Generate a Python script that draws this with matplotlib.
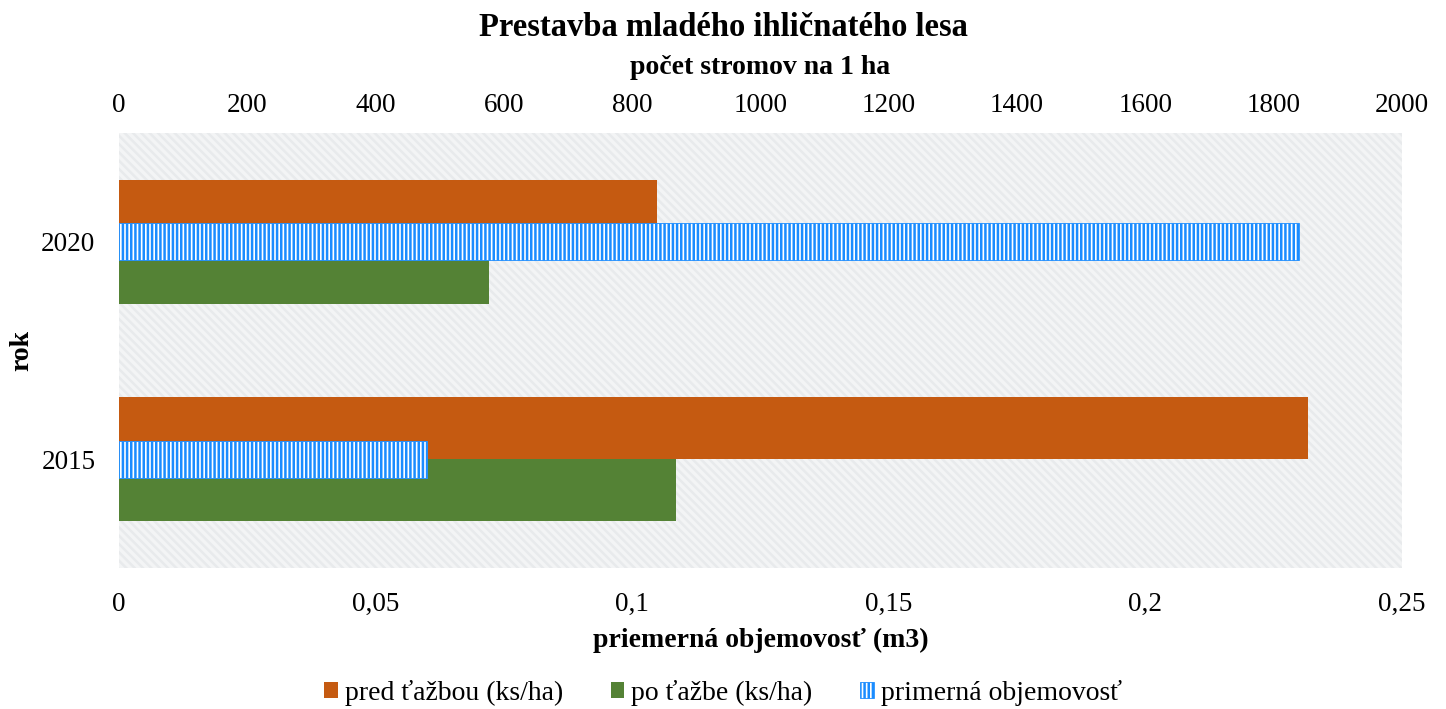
import numpy as np
import matplotlib
matplotlib.use("Agg")
import matplotlib.pyplot as plt
from matplotlib.patches import Patch, Rectangle

plt.rcParams['font.family'] = ['Liberation Serif', 'DejaVu Serif']
plt.rcParams['hatch.linewidth'] = 1.8

# data
roky = ["2015", "2020"]
pred_tazbou = [1853, 839]      # ks/ha
po_tazbe = [868, 577]          # ks/ha
objemovost = [0.06, 0.23]      # m3

# colours
c_pred = "#c55a11"
c_po = "#548235"
c_obj = "#1a8cff"

fig = plt.figure(figsize=(14.46, 7.09), dpi=100)
ax = fig.add_axes([119/1446, 1 - 568/709, 1283/1446, 435/709])
ax2 = ax.twiny()

y = np.arange(len(roky))
h = 0.285

# plot area background with faint diagonal pattern
ax.set_facecolor("#f3f4f5")
ax.add_patch(Rectangle((0, 0), 1, 1, transform=ax.transAxes, facecolor="none",
                       edgecolor="#e8eaec", hatch="\\\\\\\\", linewidth=0, zorder=0))

# primary series (top axis: počet stromov)
ax.barh(y + h/2, pred_tazbou, height=h, color=c_pred, zorder=2)
ax.barh(y - h/2, po_tazbe, height=h, color=c_po, zorder=2)
ax.set_xlim(0, 2000)
ax.set_ylim(-0.5, 1.5)
ax.xaxis.tick_top()
ax.xaxis.set_label_position("top")
ax.set_xticks(np.arange(0, 2001, 200))
ax.set_xlabel("počet stromov na 1 ha", fontsize=20, fontweight="bold", va="center")
ax.xaxis.set_label_coords(0.5, 1 + (133 - 68)/435)
ax.set_yticks(y)
ax.set_yticklabels(roky)
ax.set_ylabel("rok", fontsize=20, fontweight="bold", va="center")
ax.yaxis.set_label_coords(-(119 - 22)/1283, 0.5)
ax.tick_params(axis="x", length=0, labelsize=19.5, pad=11)
ax.tick_params(axis="y", length=0, labelsize=19.5, pad=17)
for s in ax.spines.values():
    s.set_visible(False)

# secondary series (bottom axis: objemovosť)
ax2.patch.set_visible(False)
ax2.barh(y, objemovost, height=0.17, facecolor="white", edgecolor=c_obj,
         hatch="||||", linewidth=0.6, zorder=3)
ax2.set_xlim(0, 0.25)
ax2.set_ylim(-0.5, 1.5)
ax2.xaxis.tick_bottom()
ax2.xaxis.set_label_position("bottom")
ax2.set_xticks([0, 0.05, 0.1, 0.15, 0.2, 0.25])
ax2.set_xticklabels(["0", "0,05", "0,1", "0,15", "0,2", "0,25"])
ax2.set_xlabel("priemerná objemovosť (m3)", fontsize=20, fontweight="bold", va="center")
ax2.xaxis.set_label_coords(0.5, -(640 - 568)/435)
ax2.tick_params(length=0, labelsize=19.5, pad=17)
for s in ax2.spines.values():
    s.set_visible(False)

fig.text(0.5, 1 - 28/709, "Prestavba mladého ihličnatého lesa", ha="center", va="center",
         fontsize=23.5, fontweight="bold")

handles = [Patch(facecolor=c_pred, label="pred ťažbou (ks/ha)"),
           Patch(facecolor=c_po, label="po ťažbe (ks/ha)"),
           Patch(facecolor="white", edgecolor=c_obj, hatch="||||", linewidth=0.6,
                 label="primerná objemovosť")]
fig.legend(handles=handles, loc="center", bbox_to_anchor=(0.5, 1 - 693/709), ncol=3,
           frameon=False, fontsize=20, handlelength=0.5, handleheight=0.5,
           handletextpad=0.25, columnspacing=1.7)

fig.savefig("out.png", dpi=100)
